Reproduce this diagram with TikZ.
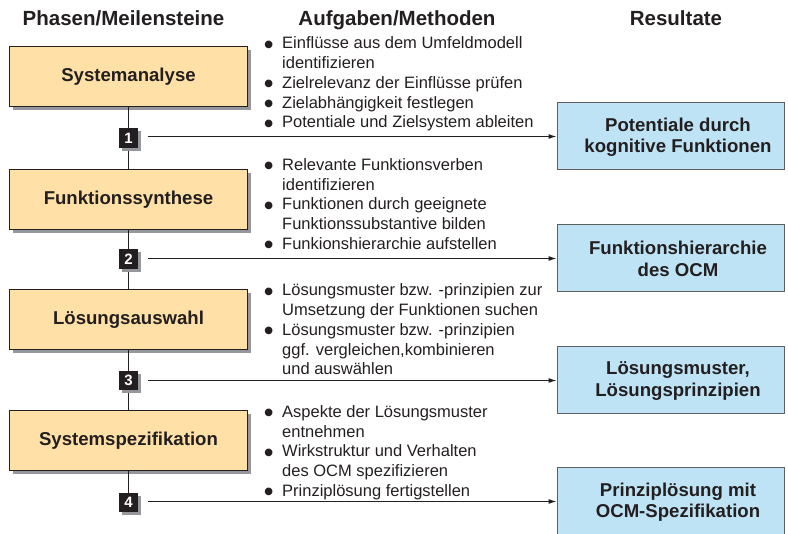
\documentclass[tikz,border=0pt]{standalone}
\usepackage{fontspec}
\setmainfont{Liberation Sans}
\newfontfamily\symbolfont{DejaVu Sans}
\usetikzlibrary{arrows.meta,shadows}

\definecolor{ink}{RGB}{35,31,32}
\definecolor{phasefill}{RGB}{255,224,166}
\definecolor{resultfill}{RGB}{190,227,245}
\definecolor{shade}{RGB}{150,151,156}
\definecolor{frame}{RGB}{95,95,95}

% one task line with a round bullet hanging in the left margin, and a continuation line
\newcommand\taskbullet{\raisebox{1.6pt}{\symbolfont\fontsize{10}{10}\selectfont ●}}
\newcommand\taskitem[1]{\hbox{\llap{\taskbullet\hspace{9pt}}#1}}
\newcommand\taskcont[1]{\hbox{#1}}

\tikzset{
  header/.style={anchor=base, inner sep=0pt, text=ink,
    font=\fontsize{20.5}{24}\selectfont\bfseries},
  phase/.style={draw=ink, line width=1pt, fill=phasefill,
    minimum width=238pt, minimum height=60pt, inner sep=0pt, text=ink,
    font=\fontsize{18.6}{21}\selectfont\bfseries,
    drop shadow={shadow xshift=3.5pt, shadow yshift=-3.5pt, fill=shade, opacity=1}},
  milestone/.style={fill=ink, text=white, minimum size=19.5pt, inner sep=0pt,
    font=\fontsize{15}{15}\selectfont\bfseries,
    drop shadow={shadow xshift=3pt, shadow yshift=-3pt, fill=shade, opacity=1}},
  result/.style={draw=frame, line width=1pt, fill=resultfill,
    minimum width=227pt, minimum height=67pt, inner sep=0pt},
  resulttext/.style={inner sep=0pt, align=center, text=ink,
    font=\fontsize{18.6}{21.5}\selectfont\bfseries},
  tasks/.style={anchor=base west, inner sep=0pt, text=ink,
    font=\fontsize{16.5}{19.7}\selectfont},
  link/.style={draw=ink, line width=1.3pt},
  flow/.style={draw=ink, line width=1pt, -{Latex[length=8pt,width=5pt]}},
}

\begin{document}
\begin{tikzpicture}[x=1pt, y=-1pt]
  \useasboundingbox (0,0) rectangle (788,534);

  % column headings
  \node[header] (h1) at (123.5,26) {Phasen/Meilensteine};
  \node[header] (h2) at (397,26) {Aufgaben/Methoden};
  \node[header] (h3) at (676,26) {Resultate};

  % phases
  \node[phase] (p1) at (128.5,77)  {Systemanalyse};
  \node[phase] (p2) at (128.5,199.5) {Funktionssynthese};
  \node[phase] (p3) at (128.5,320) {Lösungsauswahl};
  \node[phase] (p4) at (128.5,441) {Systemspezifikation};

  % spine between the phases
  \draw[link] (p1.south) -- (p2.north);
  \draw[link] (p2.south) -- (p3.north);
  \draw[link] (p3.south) -- (p4.north);
  \coordinate (end) at (128.5,494);
  \draw[link] (p4.south) -- (end);

  % milestones
  \node[milestone] (m1) at (128.5,138) {1};
  \node[milestone] (m2) at (128.5,259) {2};
  \node[milestone] (m3) at (128.5,380.5) {3};
  \node[milestone] (m4) at (128.5,502.5) {4};

  % results
  \node[result] (r1) at (670.5,136.5) {};
  \node[result] (r2) at (670.5,258.5) {};
  \node[result] (r3) at (670.5,380.5) {};
  \node[result] (r4) at (670.5,501.5) {};
  \node[resulttext] (r1t) at (678,137) {Potentiale durch\\kognitive Funktionen};
  \node[resulttext] (r2t) at (678,259) {Funktionshierarchie\\des OCM};
  \node[resulttext] (r3t) at (678,381) {Lösungsmuster,\\Lösungsprinzipien};
  \node[resulttext] (r4t) at (678,502) {Prinziplösung mit\\OCM-Spezifikation};

  % milestone to result
  \draw[flow] ([xshift=10pt]m1.east |- r1.west) -- (r1.west);
  \draw[flow] ([xshift=10pt]m2.east |- r2.west) -- (r2.west);
  \draw[flow] ([xshift=10pt]m3.east |- r3.west) -- (r3.west);
  \draw[flow] ([xshift=10pt]m4.east |- r4.west) -- (r4.west);

  % tasks of each phase
  \node[tasks] (t1) at (282,49) {\vtop{%
    \taskitem{Einflüsse aus dem Umfeldmodell}
    \taskcont{identifizieren}
    \taskitem{Zielrelevanz der Einflüsse prüfen}
    \taskitem{Zielabhängigkeit festlegen}
    \taskitem{Potentiale und Zielsystem ableiten}}};
  \node[tasks] (t2) at (282,170.5) {\vtop{%
    \taskitem{Relevante Funktionsverben}
    \taskcont{identifizieren}
    \taskitem{Funktionen durch geeignete}
    \taskcont{Funktionssubstantive bilden}
    \taskitem{Funkionshierarchie aufstellen}}};
  \node[tasks] (t3) at (282,296) {\vtop{%
    \taskitem{Lösungsmuster bzw. -prinzipien zur}
    \taskcont{Umsetzung der Funktionen suchen}
    \taskitem{Lösungsmuster bzw. -prinzipien}
    \taskcont{ggf. vergleichen,kombinieren}
    \taskcont{und auswählen}}};
  \node[tasks] (t4) at (282,417.5) {\vtop{%
    \taskitem{Aspekte der Lösungsmuster}
    \taskcont{entnehmen}
    \taskitem{Wirkstruktur und Verhalten}
    \taskcont{des OCM spezifizieren}
    \taskitem{Prinziplösung fertigstellen}}};
\end{tikzpicture}
\end{document}
